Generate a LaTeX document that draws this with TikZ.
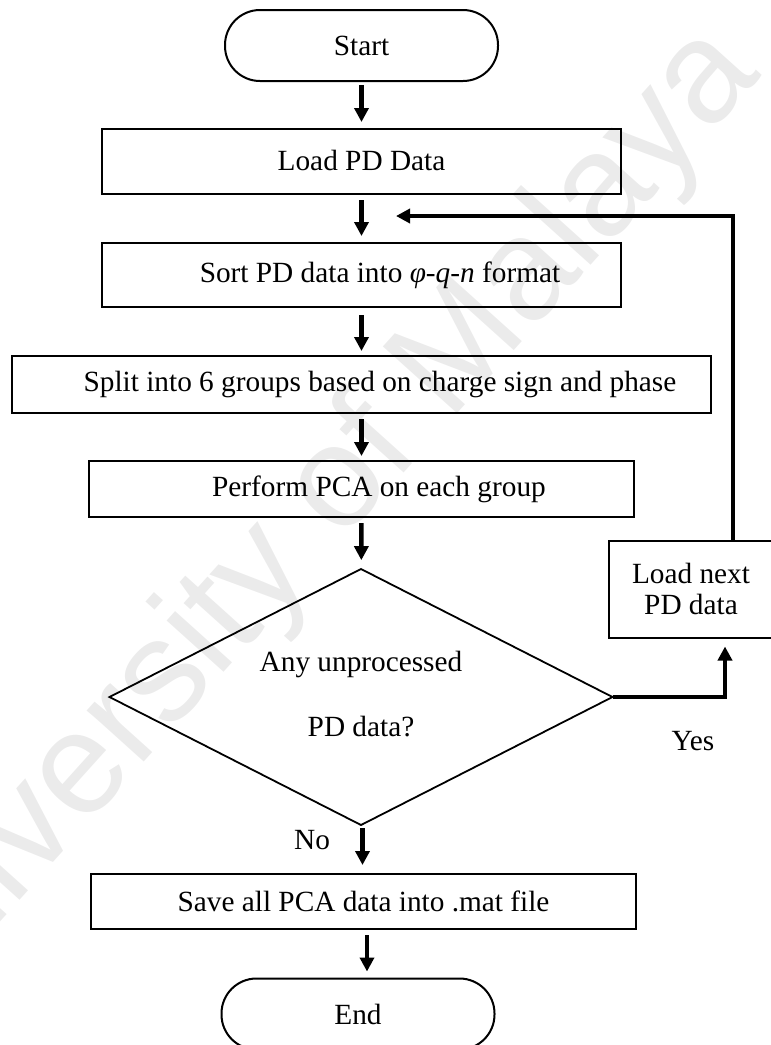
\documentclass[tikz,border=0pt]{standalone}
\usepackage{fontspec}
\setmainfont{Liberation Serif}
\newfontfamily\wmfont{Liberation Sans}
\usetikzlibrary{arrows.meta,shapes.geometric}

\begin{document}
\begin{tikzpicture}[x=1pt,y=-1pt,
  every node/.style={outer sep=0pt,inner sep=0pt,font=\fontsize{29.3}{31}\selectfont},
  stepbox/.style={draw,line width=2pt},
  terminal/.style={draw,line width=2pt,rounded corners=35pt,minimum width=273pt,minimum height=71pt},
  decision/.style={draw,line width=1.8pt,diamond,aspect=1.96,minimum width=503pt,minimum height=256pt,
    align=center,font=\fontsize{29.3}{65}\selectfont},
  flow/.style={line width=4.5pt,-{Triangle[width=14pt,length=14pt]},shorten <=6pt,shorten >=7pt},
  loopline/.style={line width=4.5pt,-{Triangle[width=14pt,length=14pt]}},
  watermark/.style={text=black!8,font=\fontsize{145}{145}\wmfont}
]
\useasboundingbox (0,0) rectangle (771,1045);

% faint background lettering
\node[watermark,rotate=48] (wm) at (298,535) {University of Malaya};

% process chain
\node[terminal] (start) at (361.5,45.5) {Start};
\node[stepbox,minimum width=519pt,minimum height=65pt,text depth=3pt] (load) at (361.5,161.5) {Load PD Data};
\node[stepbox,minimum width=519pt,minimum height=64pt] (sort) at (361.5,275)
  {\hspace*{37pt}Sort PD data into \textit{φ-q-n} format};
\node[stepbox,minimum width=699pt,minimum height=57pt] (split) at (361.5,384.5)
  {\hspace*{37pt}Split into 6 groups based on charge sign and phase};
\node[stepbox,minimum width=545pt,minimum height=56pt] (pca) at (361.5,489)
  {\hspace*{35pt}Perform PCA on each group};
\node[decision,text depth=6pt] (dia) at (361,697) {Any unprocessed\\PD data?};
\node[stepbox,minimum width=164pt,minimum height=97pt,align=center] (next) at (691,589)
  {Load next\\PD data};
\node[stepbox,minimum width=545pt,minimum height=55pt] (save) at (363.5,901.5)
  {Save all PCA data into .mat file};
\node[terminal] (end) at (358,1014) {End};

% branch labels
\node (yes) at (693,741) {Yes};
\node (no) at (312,840) {No};

% loop return point beside the second arrow
\coordinate (loopin) at (396,216);

% connectors
\draw[flow,shorten <=4pt] (start) -- (load);
\draw[flow] (load) -- (sort);
\draw[flow,shorten <=8pt,shorten >=5pt] (sort) -- (split);
\draw[flow,shorten >=5pt] (split) -- (pca);
\draw[flow,shorten >=9pt] (pca) -- (dia);
\draw[flow,shorten <=3pt,shorten >=9pt] ([xshift=1.5pt]dia.south) -- ([xshift=1.5pt]dia.south |- save.north);
\draw[flow] ([xshift=3.5pt]save.south) -- ([xshift=3.5pt]save.south |- end.north);
\draw[loopline] (dia.east) -| ([xshift=34pt,yshift=-9pt]next.south);
\draw[loopline] ([xshift=42pt]next.north) |- (loopin);
\end{tikzpicture}
\end{document}
